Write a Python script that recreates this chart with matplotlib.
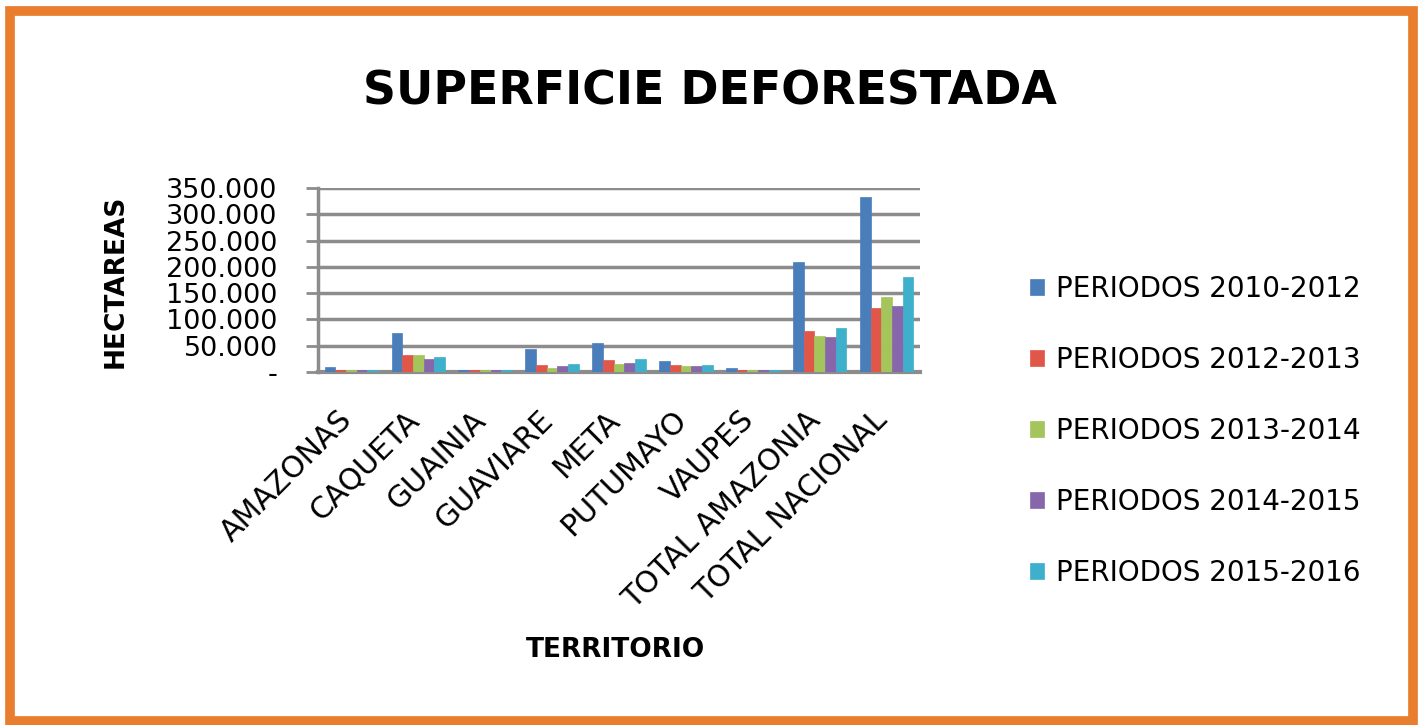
import matplotlib
matplotlib.use("Agg")
import matplotlib.pyplot as plt
import numpy as np
from matplotlib.patches import Rectangle
from matplotlib.ticker import FuncFormatter
from matplotlib.transforms import ScaledTranslation

categories = ["AMAZONAS", "CAQUETA", "GUAINIA", "GUAVIARE", "META",
              "PUTUMAYO", "VAUPES", "TOTAL AMAZONIA", "TOTAL NACIONAL"]
series_names = ["PERIODOS 2010-2012", "PERIODOS 2012-2013", "PERIODOS 2013-2014",
                "PERIODOS 2014-2015", "PERIODOS 2015-2016"]
p2010_2012 = [9000, 74000, 4000, 44000, 56000, 20000, 8000, 209000, 332000]
p2012_2013 = [4500, 32000, 3000, 14000, 22000, 14000, 4000, 78000, 122000]
p2013_2014 = [4000, 33000, 3000, 7000, 16000, 12000, 4000, 69000, 143000]
p2014_2015 = [4500, 25000, 3000, 11000, 18000, 11000, 4000, 66000, 126000]
p2015_2016 = [4500, 29000, 3000, 15000, 24000, 14000, 4000, 83000, 180000]
series = [p2010_2012, p2012_2013, p2013_2014, p2014_2015, p2015_2016]
colors = ["#4A7EBB", "#E0574A", "#A3C55B", "#8866AC", "#3FB0CB"]

W, H = 1424, 725
fig = plt.figure(figsize=(W / 100, H / 100), dpi=100)
fig.patch.set_facecolor("white")

# orange frame
fig.add_artist(Rectangle((10 / W, 4 / H), 1403 / W, 710 / H, transform=fig.transFigure,
                         fill=False, edgecolor="#E87E2E", linewidth=7))

fig.text(710 / W, 1 - 92 / H, "SUPERFICIE DEFORESTADA", ha="center", va="center",
         fontsize=33, fontweight="bold", family="DejaVu Sans", color="black")

ax = fig.add_axes([318 / W, 1 - 372 / H, 602 / W, 184 / H])
x = np.arange(len(categories))
n = len(series)
bw = 0.16
for i, (vals, c, name) in enumerate(zip(series, colors, series_names)):
    ax.bar(x + (i - (n - 1) / 2) * bw, vals, width=bw, color=c, label=name,
           edgecolor=c, linewidth=0.5, zorder=3)

ax.set_xlim(-0.5, len(categories) - 0.5)
ax.set_ylim(0, 350000)
ax.set_yticks(np.arange(0, 350001, 50000))
ax.yaxis.set_major_formatter(FuncFormatter(
    lambda v, p: "-" if v == 0 else f"{int(v):,}".replace(",", ".")))
ax.grid(axis="y", color="#8C8C8C", linewidth=2.5, zorder=0)
ax.set_axisbelow(True)
for s in ["top", "right"]:
    ax.spines[s].set_visible(False)
ax.spines["left"].set_color("#8C8C8C")
ax.spines["left"].set_linewidth(2.5)
ax.spines["bottom"].set_color("#8C8C8C")
ax.spines["bottom"].set_linewidth(3)
ax.tick_params(axis="y", length=9, width=2, color="#8C8C8C", pad=20, labelsize=19.5)
ax.tick_params(axis="x", length=0, pad=24, labelsize=21.5)
ax.set_xticks(x)
ax.set_xticklabels(categories, rotation=45, ha="right", rotation_mode="anchor")
off = ScaledTranslation(-14 / 100, 0, fig.dpi_scale_trans)
for lab in ax.get_xticklabels():
    lab.set_transform(lab.get_transform() + off)
fig.text(116 / W, 1 - 281 / H, "HECTAREAS", rotation=90, ha="center", va="center",
         fontsize=19, fontweight="bold")
fig.text(615 / W, 1 - 650 / H, "TERRITORIO", ha="center", va="center",
         fontsize=19, fontweight="bold")

leg = ax.legend(loc="center left", bbox_to_anchor=(1030 / W, 1 - 431 / H),
                bbox_transform=fig.transFigure, frameon=False, fontsize=20,
                handlelength=0.5, handleheight=0.5, handletextpad=0.45,
                labelspacing=1.55, borderpad=0, borderaxespad=0)

fig.savefig("out.png", dpi=100)
